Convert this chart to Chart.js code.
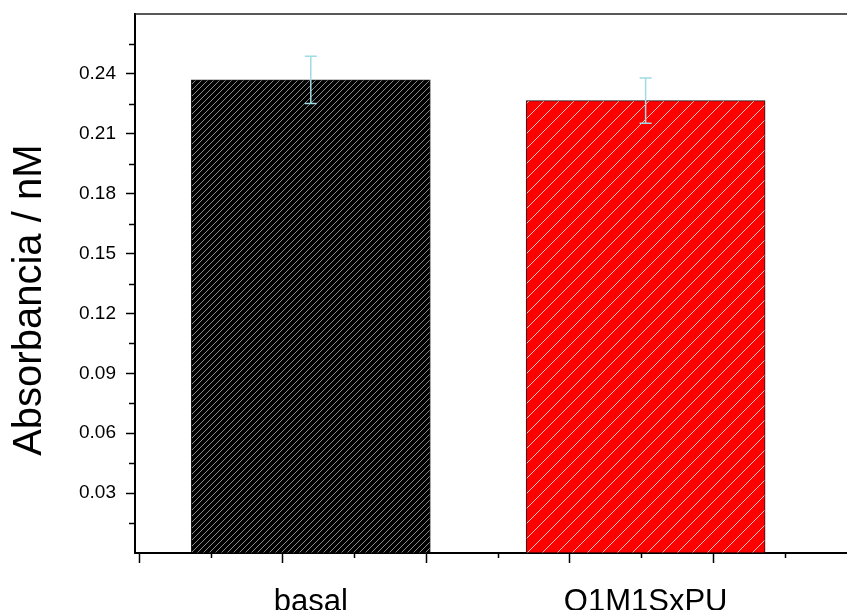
<!DOCTYPE html>
<html>
<head>
<meta charset="utf-8">
<script src="https://cdn.jsdelivr.net/npm/chart.js@4/dist/chart.umd.min.js"></script>
<style>
    html, body { margin: 0; padding: 0; background: #fff; overflow: hidden; }
    #wrap { width: 900px; height: 610px; }
</style>
</head>
<body>
<div id="wrap"><canvas id="grafico"></canvas></div>
<script>
// Categorias e posições no eixo x
const categorias = ['basal', 'Q1M1SxPU'];
const posicoes = [1, 2];

// Absorbância média e desvio (barras de erro)
const absorbancia = [0.237, 0.2266];
const desvios = [0.0118, 0.0113];

// Eixo y
const yMin = 0;
const yMax = 0.27;
const yPasso = 0.03;

// Eixo x (ticks no estilo do Origin, sem rótulo)
const xMin = 0.475;
const xMax = 2.7;
const xTickInicio = 0.487;
const xTickPasso = 0.4286;

Chart.defaults.font.family = '"Liberation Sans", Arial, sans-serif';
Chart.defaults.color = '#000';

// Preenchimento hachurado
function hachura(fundo, linha, passo, largura) {
    const c = document.createElement('canvas');
    c.width = passo;
    c.height = passo;
    const g = c.getContext('2d');
    g.fillStyle = fundo;
    g.fillRect(0, 0, passo, passo);
    g.strokeStyle = linha;
    g.lineWidth = largura;
    g.beginPath();
    g.moveTo(-1, passo + 1); g.lineTo(passo + 1, -1);
    g.moveTo(-1, 1); g.lineTo(1, -1);
    g.moveTo(passo - 1, passo + 1); g.lineTo(passo + 1, passo - 1);
    g.stroke();
    return g.createPattern(c, 'repeat');
}

const preenchimentos = [
    hachura('#000000', '#8a8a8a', 6, 1),
    hachura('#ff0000', 'rgba(255,220,220,0.9)', 15, 1)
];

// Barras de erro
const barrasErro = {
    id: 'barrasErro',
    afterDatasetsDraw(chart) {
        const { ctx, scales: { y } } = chart;
        const meta = chart.getDatasetMeta(0);
        ctx.save();
        ctx.strokeStyle = '#9fdbe3';
        ctx.lineWidth = 1.5;
        absorbancia.forEach((v, i) => {
            const px = meta.data[i].x;
            const topo = y.getPixelForValue(v + desvios[i]);
            const base = y.getPixelForValue(v - desvios[i]);
            ctx.beginPath();
            ctx.moveTo(px, topo); ctx.lineTo(px, base);
            ctx.moveTo(px - 6, topo); ctx.lineTo(px + 6, topo);
            ctx.moveTo(px - 6, base); ctx.lineTo(px + 6, base);
            ctx.stroke();
        });
        ctx.restore();
    }
};

// Ticks menores e moldura superior
const molduraTicks = {
    id: 'molduraTicks',
    afterDraw(chart) {
        const { ctx, chartArea: a, scales: { x, y } } = chart;
        ctx.save();
        ctx.strokeStyle = '#000';
        ctx.lineWidth = 1.5;
        ctx.beginPath();
        for (let v = yMin + yPasso / 2; v < yMax; v += yPasso) {
            const py = Math.round(y.getPixelForValue(v)) + 0.5;
            ctx.moveTo(a.left - 6, py); ctx.lineTo(a.left, py);
        }
        for (let v = xTickInicio + xTickPasso / 2; v < xMax; v += xTickPasso) {
            const px = Math.round(x.getPixelForValue(v)) + 0.5;
            ctx.moveTo(px, a.bottom); ctx.lineTo(px, a.bottom + 5);
        }
        ctx.stroke();
        ctx.strokeStyle = '#222';
        ctx.beginPath();
        ctx.moveTo(a.left, a.top); ctx.lineTo(a.right, a.top);
        ctx.lineTo(a.right, a.bottom);
        ctx.stroke();
        ctx.restore();
    }
};

const extremo = v => v <= yMin + 1e-9 || v >= yMax - 1e-9;

new Chart(document.getElementById('grafico'), {
    type: 'bar',
    data: {
        datasets: [{
            data: posicoes.map((p, i) => ({ x: p, y: absorbancia[i] })),
            backgroundColor: preenchimentos,
            borderColor: '#1a1a1a',
            borderWidth: 1,
            barThickness: 239
        }]
    },
    options: {
        responsive: true,
        maintainAspectRatio: false,
        animation: false,
        layout: { padding: { left: 6, right: 20, top: 14, bottom: 0 } },
        plugins: {
            legend: { display: false },
            tooltip: { enabled: false }
        },
        scales: {
            x: {
                type: 'linear',
                position: 'bottom',
                min: xMin,
                max: xMax,
                weight: 0,
                offset: false,
                grid: { drawOnChartArea: false, offset: false, tickLength: 10, tickColor: '#000', tickWidth: 1.5 },
                border: { color: '#000', width: 2 },
                ticks: { callback: () => '' },
                afterBuildTicks: s => {
                    const t = [];
                    for (let v = xTickInicio; v <= xMax; v += xTickPasso) t.push({ value: v });
                    s.ticks = t;
                },
                afterFit: s => { s.height = 12; s.paddingLeft = 0; s.paddingRight = 0; }
            },
            x2: {
                type: 'linear',
                position: 'bottom',
                min: xMin,
                max: xMax,
                weight: 1,
                offset: false,
                grid: { display: false },
                border: { display: false },
                ticks: {
                    font: { size: 31 },
                    padding: 11,
                    maxRotation: 0,
                    autoSkip: false,
                    callback: (v, i) => categorias[i]
                },
                afterBuildTicks: s => { s.ticks = posicoes.map(p => ({ value: p })); },
                afterFit: s => { s.height = 45; s.paddingLeft = 0; s.paddingRight = 0; }
            },
            y: {
                min: yMin,
                max: yMax,
                ticks: {
                    stepSize: yPasso,
                    font: { size: 19 },
                    padding: 10,
                    callback: v => extremo(v) ? '' : v.toFixed(2)
                },
                grid: {
                    drawOnChartArea: false,
                    tickLength: 9,
                    tickWidth: 1.5,
                    tickColor: c => (c.tick && extremo(c.tick.value)) ? 'rgba(0,0,0,0)' : '#000'
                },
                border: { color: '#000', width: 2 },
                title: {
                    display: true,
                    text: 'Absorbancia / nM\u00a0\u00a0\u00a0',
                    font: { size: 40, lineHeight: 1 },
                    padding: { top: 4, bottom: 0 }
                },
                afterFit: s => { s.width = 129; s.paddingTop = 0; s.paddingBottom = 0; }
            }
        }
    },
    plugins: [barrasErro, molduraTicks]
});
</script>
</body>
</html>
